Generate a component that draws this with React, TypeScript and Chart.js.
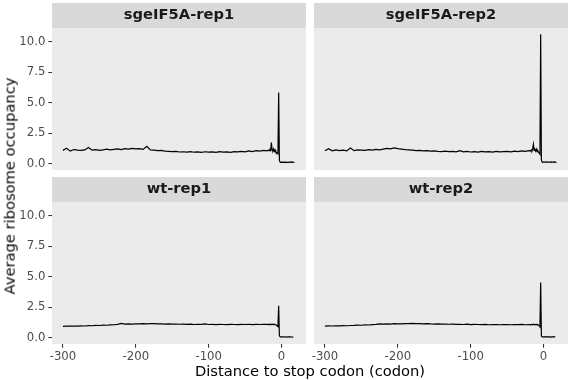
import React, { useEffect, useRef } from "react";
import { Chart, registerables } from "chart.js";

Chart.register(...registerables);

const FONT = "'DejaVu Sans', 'Liberation Sans', sans-serif";

// Distance to stop codon (codon)
const distance = [
  -300, -295, -290, -285, -280, -275, -270, -265, -260, -255,
  -250, -245, -240, -235, -230, -225, -220, -215, -210, -205,
  -200, -195, -190, -185, -180, -175, -170, -165, -160, -155,
  -150, -145, -140, -135, -130, -125, -120, -115, -110, -105,
  -100, -95, -90, -85, -80, -75, -70, -65, -60, -55,
  -50, -45, -40, -35, -30, -25, -20,
  -18, -17, -16, -15, -14, -13, -12, -11, -10, -9,
  -8, -7, -6, -5, -4, -3, -2, -1, 0, 1,
  2, 3, 4, 5, 6, 7, 8, 9, 10, 11,
  12, 13, 14, 15, 16, 17,
];

const sgeIF5A_rep1 = [
  1.08, 1.25, 1.02, 1.15, 1.10, 1.08, 1.12, 1.32, 1.10, 1.14,
  1.08, 1.12, 1.18, 1.12, 1.16, 1.20, 1.14, 1.22, 1.18, 1.25,
  1.20, 1.22, 1.16, 1.42, 1.12, 1.10, 1.06, 1.08, 1.02, 1.00,
  0.98, 1.00, 0.95, 0.97, 0.94, 0.98, 0.93, 0.96, 0.92, 0.97,
  0.93, 0.96, 0.92, 0.98, 0.94, 0.96, 0.92, 0.98, 0.96, 1.00,
  0.96, 1.04, 0.98, 1.06, 1.02, 1.08, 1.04,
  1.10, 1.05, 1.15, 1.08, 1.72, 1.10, 1.05, 1.20, 1.00, 1.12,
  0.95, 0.90, 0.85, 0.80, 5.84, 0.25, 0.12, 0.10, 0.11, 0.10,
  0.12, 0.11, 0.10, 0.12, 0.10, 0.11, 0.09, 0.12, 0.10, 0.11,
  0.13, 0.10, 0.12, 0.10, 0.11, 0.12,
];

const sgeIF5A_rep2 = [
  1.05, 1.22, 1.04, 1.12, 1.06, 1.10, 1.04, 1.28, 1.06, 1.12,
  1.10, 1.08, 1.14, 1.10, 1.16, 1.12, 1.18, 1.24, 1.20, 1.28,
  1.22, 1.18, 1.14, 1.12, 1.10, 1.06, 1.08, 1.04, 1.06, 1.02,
  1.04, 1.00, 0.98, 1.02, 0.98, 1.00, 0.96, 1.06, 0.96, 1.00,
  0.95, 0.98, 0.94, 1.00, 0.96, 0.98, 0.94, 1.00, 0.96, 0.98,
  1.00, 0.96, 1.02, 0.98, 1.04, 1.00, 1.06,
  1.02, 1.12, 1.05, 1.20, 1.58, 1.08, 1.15, 1.02, 1.18, 0.98,
  1.05, 0.92, 0.85, 0.76, 10.62, 0.30, 0.12, 0.11, 0.12, 0.11,
  0.13, 0.12, 0.11, 0.12, 0.13, 0.11, 0.12, 0.12, 0.11, 0.13,
  0.12, 0.11, 0.12, 0.13, 0.12, 0.11,
];

const wt_rep1 = [
  0.92, 0.94, 0.93, 0.95, 0.94, 0.96, 0.95, 0.98, 0.97, 1.00,
  0.99, 1.02, 1.01, 1.04, 1.05, 1.08, 1.16, 1.10, 1.12, 1.11,
  1.13, 1.12, 1.14, 1.13, 1.15, 1.14, 1.12, 1.13, 1.11, 1.12,
  1.10, 1.11, 1.09, 1.10, 1.08, 1.10, 1.07, 1.09, 1.08, 1.12,
  1.07, 1.08, 1.06, 1.08, 1.07, 1.06, 1.08, 1.07, 1.06, 1.08,
  1.07, 1.09, 1.06, 1.08, 1.07, 1.09, 1.08,
  1.06, 1.10, 1.07, 1.09, 1.06, 1.10, 1.08, 1.05, 1.09, 1.07,
  1.04, 1.02, 0.95, 0.90, 2.60, 0.15, 0.06, 0.05, 0.05, 0.06,
  0.05, 0.05, 0.06, 0.05, 0.05, 0.04, 0.05, 0.06, 0.05, 0.05,
  0.06, 0.05, 0.05, 0.04, 0.05, 0.05,
];

const wt_rep2 = [
  0.94, 0.96, 0.95, 0.97, 0.96, 0.98, 0.97, 0.99, 1.00, 1.02,
  1.01, 1.04, 1.03, 1.06, 1.08, 1.12, 1.10, 1.12, 1.11, 1.14,
  1.12, 1.13, 1.15, 1.14, 1.16, 1.14, 1.15, 1.13, 1.15, 1.12,
  1.11, 1.12, 1.10, 1.11, 1.09, 1.10, 1.08, 1.09, 1.07, 1.10,
  1.06, 1.08, 1.07, 1.06, 1.08, 1.05, 1.07, 1.06, 1.05, 1.07,
  1.06, 1.05, 1.07, 1.06, 1.08, 1.05, 1.07,
  1.05, 1.08, 1.06, 1.04, 1.09, 1.06, 1.08, 1.05, 1.07, 1.04,
  1.06, 1.02, 0.96, 0.88, 4.52, 0.12, 0.06, 0.05, 0.06, 0.05,
  0.05, 0.06, 0.05, 0.05, 0.06, 0.05, 0.05, 0.04, 0.05, 0.06,
  0.05, 0.05, 0.06, 0.05, 0.05, 0.05,
];

const panelTitles = ["sgeIF5A-rep1", "sgeIF5A-rep2", "wt-rep1", "wt-rep2"];
const xTickValues = [-300, -200, -100, 0];
const yTickValues = [0, 2.5, 5, 7.5, 10];
const xTitle = "Distance to stop codon (codon)";
const yTitle = "Average ribosome occupancy";

type PanelProps = {
  title: string;
  values: number[];
  left: number;
  top: number;
  width: number;
  height: number;
  showX: boolean;
  showY: boolean;
  padLeft: number;
  padBottom: number;
};

const stripBg = {
  id: "stripBg",
  beforeDraw(chart: any) {
    const { ctx, chartArea } = chart;
    const tb = chart.titleBlock;
    const w = chartArea.right - chartArea.left;
    ctx.save();
    ctx.fillStyle = "#EBEBEB";
    ctx.fillRect(chartArea.left, chartArea.top, w, chartArea.bottom - chartArea.top);
    if (tb) {
      ctx.fillStyle = "#D9D9D9";
      ctx.fillRect(chartArea.left, tb.top, w, chartArea.top - tb.top);
    }
    ctx.restore();
  },
};

function Panel(p: PanelProps) {
  const ref = useRef<HTMLCanvasElement>(null);
  useEffect(() => {
    if (!ref.current) return;
    const gridOpts = {
      display: true,
      drawOnChartArea: false,
      drawTicks: true,
      tickLength: 3.67,
      color: "#333333",
      lineWidth: 1.07,
    };
    const tickFont = { family: FONT, size: 11.7 };
    const chart = new Chart(ref.current, {
      type: "line",
      data: {
        datasets: [
          {
            data: distance.map((x, i) => ({ x, y: p.values[i] })),
            borderColor: "#000000",
            borderWidth: 1.2,
            pointRadius: 0,
            tension: 0,
            fill: false,
          },
        ],
      },
      options: {
        responsive: false,
        animation: false,
        devicePixelRatio: 1,
        layout: { padding: { top: 3, left: p.padLeft, right: 0, bottom: p.padBottom } },
        plugins: {
          legend: { display: false },
          tooltip: { enabled: false },
          title: {
            display: true,
            text: p.title,
            fullSize: false,
            color: "#1A1A1A",
            font: { family: FONT, size: 14.7, weight: "bold", lineHeight: "17px" },
            padding: { top: 4, bottom: 4 },
          },
        },
        scales: {
          x: {
            type: "linear",
            min: -315,
            max: 33.5,
            display: p.showX,
            afterBuildTicks: (s: any) => {
              s.ticks = xTickValues.map((v) => ({ value: v }));
            },
            afterFit: (s: any) => {
              if (p.showX) s.height = 22;
            },
            grid: gridOpts,
            border: { display: false },
            ticks: {
              color: "#4D4D4D",
              font: tickFont,
              padding: 2,
              maxRotation: 0,
              autoSkip: false,
              callback: (v: any) => String(v),
            },
          },
          y: {
            type: "linear",
            min: -0.53,
            max: 11.13,
            display: p.showY,
            afterBuildTicks: (s: any) => {
              s.ticks = yTickValues.map((v) => ({ value: v }));
            },
            afterFit: (s: any) => {
              if (p.showY) s.width = 52;
            },
            grid: gridOpts,
            border: { display: false },
            ticks: {
              color: "#4D4D4D",
              font: tickFont,
              padding: 3,
              autoSkip: false,
              callback: (v: any) => Number(v).toFixed(1),
            },
          },
        },
      } as any,
      plugins: [stripBg],
    });
    return () => chart.destroy();
  }, []);
  return (
    <canvas
      ref={ref}
      width={p.width}
      height={p.height}
      style={{ position: "absolute", left: p.left, top: p.top, width: p.width, height: p.height }}
    />
  );
}

export default function App() {
  return (
    <div
      style={{
        position: "fixed",
        left: 0,
        top: 0,
        width: 569,
        height: 380,
        background: "#ffffff",
        overflow: "hidden",
        fontFamily: FONT,
      }}
    >
      <Panel title={panelTitles[0]} values={sgeIF5A_rep1} left={0} top={0} width={306} height={182} showX={false} showY={true} padLeft={0} padBottom={12} />
      <Panel title={panelTitles[1]} values={sgeIF5A_rep2} left={300} top={0} width={268} height={182} showX={false} showY={false} padLeft={14} padBottom={12} />
      <Panel title={panelTitles[2]} values={wt_rep1} left={0} top={174} width={306} height={192} showX={true} showY={true} padLeft={0} padBottom={0} />
      <Panel title={panelTitles[3]} values={wt_rep2} left={300} top={174} width={268} height={192} showX={true} showY={false} padLeft={14} padBottom={0} />
      <div
        style={{
          position: "absolute",
          left: 9.5,
          top: 186,
          transform: "translate(-50%, -50%) rotate(-90deg)",
          whiteSpace: "nowrap",
          fontSize: 14.7,
          color: "#000000",
          lineHeight: 1,
        }}
      >
        {yTitle}
      </div>
      <div
        style={{
          position: "absolute",
          left: 310,
          top: 371,
          transform: "translate(-50%, -50%)",
          whiteSpace: "nowrap",
          fontSize: 14.7,
          color: "#000000",
          lineHeight: 1,
        }}
      >
        {xTitle}
      </div>
    </div>
  );
}
